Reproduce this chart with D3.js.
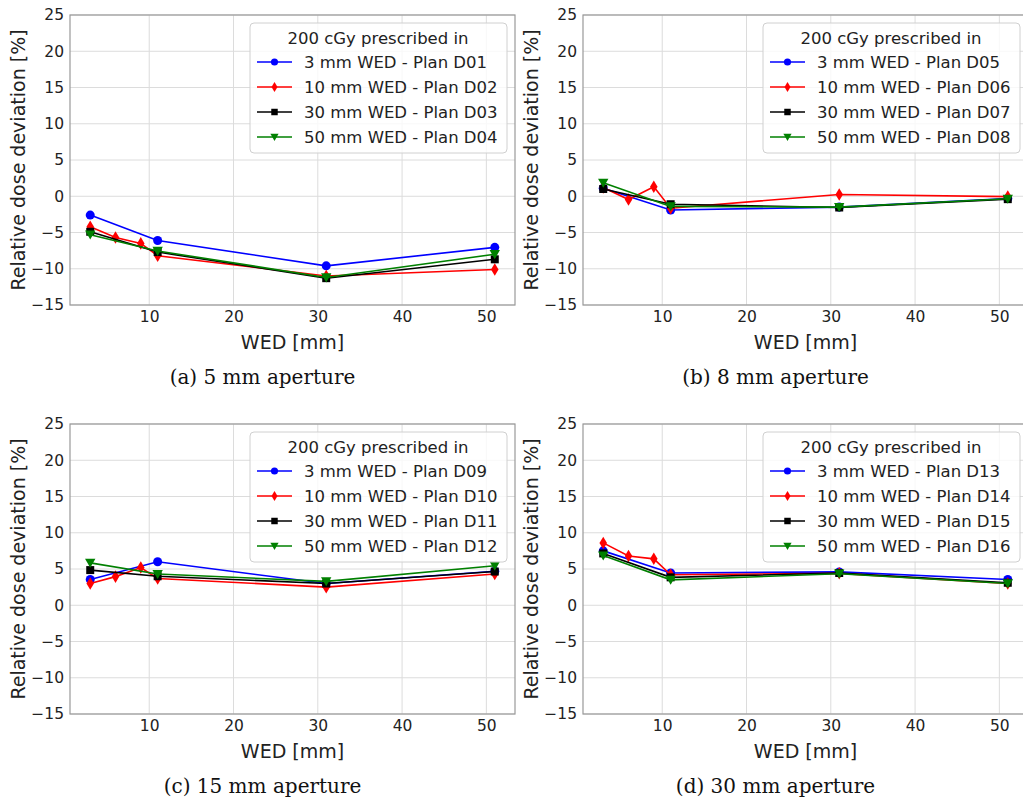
<!DOCTYPE html>
<html><head><meta charset="utf-8">
<script src="https://cdn.jsdelivr.net/npm/d3@7"></script>
<style>body{margin:0;background:#fff}svg{display:block}</style>
</head><body>
<svg id="chart" width="1023" height="800"></svg>
<script>
// ---------- data ----------
const wedRed = [3, 6, 9, 11, 31, 51];        // 10 mm WED series has extra points
const wedOther = [3, 11, 31, 51];
const xTicks = [10, 20, 30, 40, 50];
const yTicks = [-15, -10, -5, 0, 5, 10, 15, 20, 25];
const seriesNames = ["3 mm WED", "10 mm WED", "30 mm WED", "50 mm WED"];
const seriesColors = ["#0000ff", "#ff0000", "#000000", "#008000"];
const seriesMarkers = ["circle", "thinDiamond", "square", "triangleDown"];
const panelCaptions = ["(a) 5 mm aperture", "(b) 8 mm aperture", "(c) 15 mm aperture", "(d) 30 mm aperture"];
const panelPlans = [
  ["D01", "D02", "D03", "D04"],
  ["D05", "D06", "D07", "D08"],
  ["D09", "D10", "D11", "D12"],
  ["D13", "D14", "D15", "D16"]
];
const legendTitle = "200 cGy prescribed in";

// panel (a) 5 mm aperture
const aBlue  = [-2.6, -6.1, -9.6, -7.05];
const aRed   = [-4.2, -5.7, -6.5, -8.2, -11.0, -10.1];
const aBlack = [-4.9, -7.7, -11.3, -8.7];
const aGreen = [-5.3, -7.55, -11.2, -8.0];
// panel (b) 8 mm aperture
const bBlue  = [1.1, -1.9, -1.5, -0.3];
const bRed   = [1.2, -0.45, 1.3, -1.65, 0.25, -0.05];
const bBlack = [1.0, -1.1, -1.55, -0.4];
const bGreen = [1.85, -1.4, -1.5, -0.35];
// panel (c) 15 mm aperture
const cBlue  = [3.55, 6.0, 3.0, 4.7];
const cRed   = [3.0, 3.95, 5.2, 3.7, 2.5, 4.3];
const cBlack = [4.85, 4.0, 3.0, 4.65];
const cGreen = [5.85, 4.3, 3.3, 5.45];
// panel (d) 30 mm aperture
const dBlue  = [7.5, 4.45, 4.6, 3.55];
const dRed   = [8.6, 6.8, 6.4, 4.2, 4.4, 3.0];
const dBlack = [7.15, 3.85, 4.45, 3.1];
const dGreen = [6.85, 3.5, 4.35, 3.0];

const panelSeries = [
  [aBlue, aRed, aBlack, aGreen],
  [bBlue, bRed, bBlack, bGreen],
  [cBlue, cRed, cBlack, cGreen],
  [dBlue, dRed, dBlack, dGreen]
];

// ---------- layout ----------
const panelOrigins = [[70, 15], [583, 15], [70, 424], [583, 424]];
const PW = 445, PH = 290;
const xDomain = [0.6, 53.4], yDomain = [-15, 25];
const fmt = v => v < 0 ? "\u2212" + Math.abs(v) : String(v);

const svg = d3.select("#chart");
svg.append("rect").attr("width", 1023).attr("height", 800).attr("fill", "#fff");

const thinDiamond = {
  draw(ctx, size) {
    const h = Math.sqrt(size) * 0.75, w = h * 0.6;
    ctx.moveTo(0, -h); ctx.lineTo(w, 0); ctx.lineTo(0, h); ctx.lineTo(-w, 0); ctx.closePath();
  }
};
const triDown = {
  draw(ctx, size) {
    const r = Math.sqrt(size) * 0.62;
    ctx.moveTo(-r, -r * 0.8); ctx.lineTo(r, -r * 0.8); ctx.lineTo(0, r * 0.95); ctx.closePath();
  }
};
const markerPath = {
  circle: d3.symbol(d3.symbolCircle, 64)(),
  thinDiamond: d3.symbol(thinDiamond, 70)(),
  square: d3.symbol(d3.symbolSquare, 64)(),
  triangleDown: d3.symbol(triDown, 70)()
};
const legendMarkerPath = {
  circle: d3.symbol(d3.symbolCircle, 40)(),
  thinDiamond: d3.symbol(thinDiamond, 44)(),
  square: d3.symbol(d3.symbolSquare, 42)(),
  triangleDown: d3.symbol(triDown, 44)()
};

panelOrigins.forEach(([L, T], pi) => {
  const g = svg.append("g").attr("transform", `translate(${L},${T})`);
  const x = d3.scaleLinear().domain(xDomain).range([0, PW]);
  const y = d3.scaleLinear().domain(yDomain).range([PH, 0]);

  // grid
  g.append("g").selectAll("line").data(xTicks).join("line")
    .attr("x1", d => x(d)).attr("x2", d => x(d)).attr("y1", 0).attr("y2", PH)
    .attr("stroke", "#dcdcdc").attr("stroke-width", 1);
  g.append("g").selectAll("line").data(yTicks).join("line")
    .attr("x1", 0).attr("x2", PW).attr("y1", d => y(d)).attr("y2", d => y(d))
    .attr("stroke", "#dcdcdc").attr("stroke-width", 1);

  // axes (labels only, matplotlib-like)
  const xAxis = g.append("g").attr("transform", `translate(0,${PH})`)
    .call(d3.axisBottom(x).tickValues(xTicks).tickSize(0).tickPadding(6).tickFormat(fmt));
  const yAxis = g.append("g")
    .call(d3.axisLeft(y).tickValues(yTicks).tickSize(0).tickPadding(6).tickFormat(fmt));
  [xAxis, yAxis].forEach(a => {
    a.select(".domain").remove();
    a.selectAll("text").attr("font-family", "DejaVu Sans").attr("font-size", 15.5).attr("fill", "#222");
  });

  // frame
  g.append("rect").attr("width", PW).attr("height", PH)
    .attr("fill", "none").attr("stroke", "#999").attr("stroke-width", 1.2);

  // axis labels
  g.append("text").attr("x", PW / 2).attr("y", PH + 44).attr("text-anchor", "middle")
    .attr("font-family", "DejaVu Sans").attr("font-size", 19).attr("fill", "#222").text("WED [mm]");
  g.append("text").attr("transform", `translate(${-52},${PH / 2}) rotate(-90)`)
    .attr("text-anchor", "middle").attr("dominant-baseline", "central")
    .attr("font-family", "DejaVu Sans").attr("font-size", 19).attr("fill", "#222")
    .text("Relative dose deviation [%]");

  // caption
  g.append("text").attr("x", PW / 2 - 30).attr("y", PH + 79)
    .attr("text-anchor", "middle").attr("font-family", "DejaVu Serif").attr("font-size", 20)
    .attr("fill", "#111").text(panelCaptions[pi]);

  // series
  const line = d3.line().x(d => x(d[0])).y(d => y(d[1]));
  panelSeries[pi].forEach((vals, si) => {
    const xs = si === 1 ? wedRed : wedOther;
    const pts = vals.map((v, i) => [xs[i], v]);
    const col = seriesColors[si];
    g.append("path").datum(pts).attr("d", line)
      .attr("fill", "none").attr("stroke", col).attr("stroke-width", 1.6);
    g.append("g").selectAll("path").data(pts).join("path")
      .attr("transform", d => `translate(${x(d[0])},${y(d[1])})`)
      .attr("d", markerPath[seriesMarkers[si]]).attr("fill", col);
  });

  // legend
  const LW = 257, LH = 130;
  const lg = g.append("g").attr("transform", `translate(${PW - 8 - LW},8)`);
  lg.append("rect").attr("width", LW).attr("height", LH).attr("rx", 4)
    .attr("fill", "#fff").attr("fill-opacity", 0.8).attr("stroke", "#d0d0d0").attr("stroke-width", 1);
  lg.append("text").attr("x", 128).attr("y", 21).attr("text-anchor", "middle")
    .attr("font-family", "DejaVu Sans").attr("font-size", 16.5).attr("fill", "#222").text(legendTitle);
  seriesNames.forEach((nm, si) => {
    const yy = 39 + si * 25;
    lg.append("line").attr("x1", 7).attr("x2", 42).attr("y1", yy).attr("y2", yy)
      .attr("stroke", seriesColors[si]).attr("stroke-width", 1.6);
    lg.append("path").attr("transform", `translate(24.5,${yy})`)
      .attr("d", legendMarkerPath[seriesMarkers[si]]).attr("fill", seriesColors[si]);
    lg.append("text").attr("x", 54).attr("y", yy).attr("dominant-baseline", "central")
      .attr("font-family", "DejaVu Sans").attr("font-size", 16.5).attr("fill", "#222")
      .text(`${nm} - Plan ${panelPlans[pi][si]}`);
  });
});
</script>
</body></html>
